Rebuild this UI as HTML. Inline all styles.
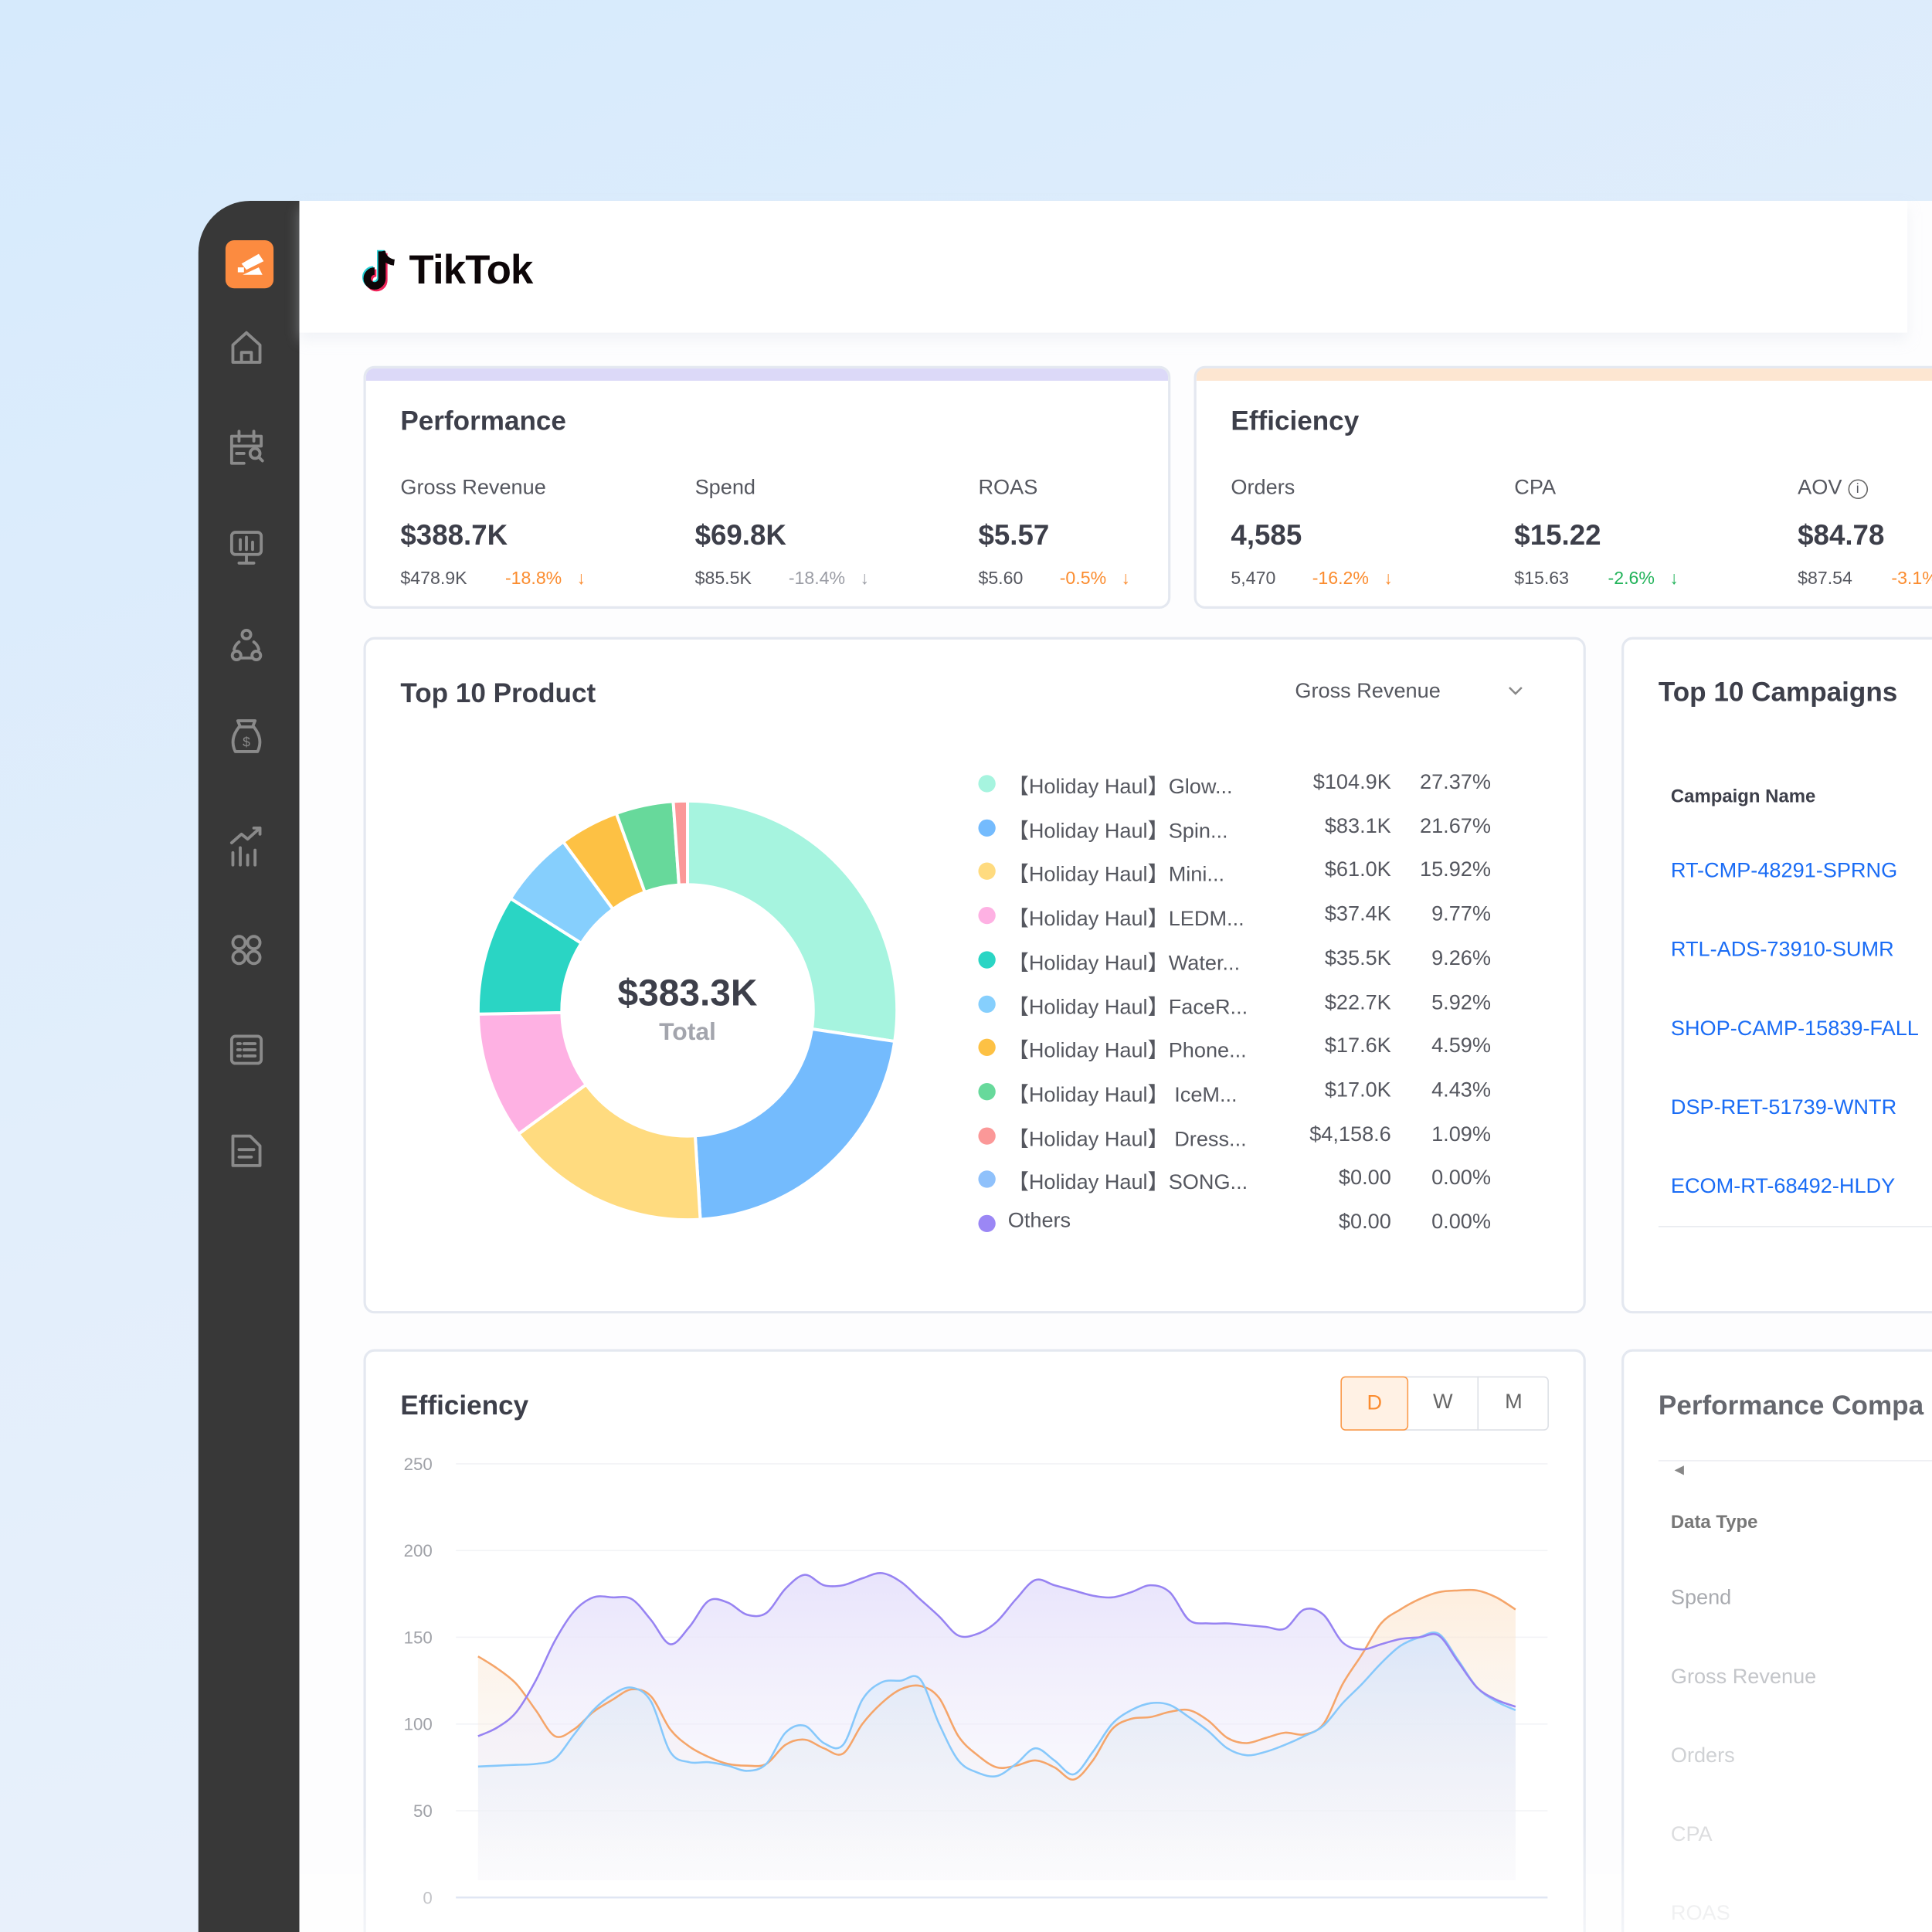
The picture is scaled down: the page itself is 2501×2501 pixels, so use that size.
<!DOCTYPE html>
<html><head><meta charset="utf-8">
<style>
html,body{margin:0;padding:0;width:2501px;height:2501px;overflow:hidden;background:#e6f0fb}
#stage{position:absolute;left:0;top:0;width:1568px;height:1568px;transform:scale(1.59503);transform-origin:0 0;font-family:"Liberation Sans",sans-serif;color:#3d3f4a;
background:linear-gradient(160deg,#d6eafc 0%,#e2eefb 45%,#edf2fb 100%);overflow:hidden}
.abs{position:absolute}
.card{position:absolute;background:#fff;border:2px solid #e4e8f0;border-radius:9px;box-sizing:border-box}
.t{position:absolute;white-space:nowrap}
.h{font-size:22px;font-weight:bold;color:#3d3f4a}
.lab{font-size:17px;color:#55575f}
.val{font-size:23px;font-weight:bold;color:#3d3f4a}
.sm{font-size:14.5px;color:#55575f}
.or{color:#fb8c2f}.gr{color:#22b35a}.gy{color:#9a9ca4}
.lg{font-size:17px;color:#55575f}
.camp{font-size:17px;color:#1a6cf5}
</style></head><body>
<div id="stage">
 <div class="abs" style="left:161px;top:163px;width:82px;height:1410px;background:#383838;border-top-left-radius:42px"></div>
 <div class="abs" style="left:183px;top:195px;width:39px;height:39px;background:#fc8b40;border-radius:7px">
  <svg width="39" height="39" viewBox="0 0 39 39"><polygon points="13,19 27,11 31,17 17,24" fill="#fff"/><rect x="10" y="22" width="5" height="4" fill="#fff"/><polygon points="14,28 27,22 30,28" fill="#fff"/></svg>
 </div>
 <svg class="abs" style="left:161px;top:250px" width="82" height="720" viewBox="0 0 82 720">
  <g fill="none" stroke="#8a8a8a" stroke-width="2.4" stroke-linecap="round" stroke-linejoin="round">
   <path d="M28 44 V30 L39 20 L50 30 V44 Z M35 44 V36 H43 V44"/>
   <path d="M27 104 h24 v8 M27 104 v22 h10 M27 112 h24 M33 100 v8 M45 100 v8 M31 118 h6"/><circle cx="46" cy="118" r="4"/><path d="M49 121 l3 3"/>
   <rect x="27" y="182" width="24" height="18" rx="3"/><path d="M39 200 v6 M33 207 h12 M34 188 v8 M39 186 v10 M44 190 v6"/>
   <circle cx="39" cy="265" r="3.5"/><circle cx="31" cy="282" r="3.5"/><circle cx="47" cy="282" r="3.5"/><path d="M33 271 a10 10 0 0 0 -4 6 M45 271 a10 10 0 0 1 4 6 M35 284 h8"/>
   <path d="M33 340 q-8 10 -3 20 h18 q5 -10 -3 -20 z M34 340 l-2 -5 h14 l-2 5"/><text x="39" y="356" font-size="11" fill="#8a8a8a" stroke="none" text-anchor="middle">$</text>
   <path d="M28 452 v-10 M34 452 v-14 M40 452 v-8 M46 452 v-12 M27 434 l8 -7 5 4 10 -9 M45 422 h5 v5"/>
   <circle cx="33" cy="515" r="5"/><circle cx="45" cy="515" r="5"/><circle cx="33" cy="527" r="5"/><circle cx="45" cy="527" r="5"/>
   <rect x="27" y="591" width="24" height="22" rx="3"/><path d="M32 597 h2 M37 597 h9 M32 602 h2 M37 602 h9 M32 607 h2 M37 607 h9"/>
   <path d="M28 672 h14 l8 8 v16 h-22 z M33 683 h12 M33 689 h10"/>
  </g>
 </svg>
 <div class="abs" style="left:243px;top:163px;width:1330px;height:1410px;background:#fdfdfe"></div>
 <div class="abs" style="left:243px;top:163px;width:1305px;height:107px;background:#fff;box-shadow:0 6px 10px rgba(220,225,235,.35)"></div>
 <div class="abs" style="left:294px;top:198px;height:44px">
  <svg width="34" height="40" viewBox="0 0 34 40" style="position:absolute;left:0;top:2px"><path d="M16 4 v22 a6 6 0 1 1 -6 -6" fill="none" stroke="#25d1d6" stroke-width="6" transform="translate(-1,-1)"/><path d="M16 4 v22 a6 6 0 1 1 -6 -6" fill="none" stroke="#f0245a" stroke-width="6" transform="translate(1.5,1.5)"/><path d="M16 4 v22 a6 6 0 1 1 -6 -6" fill="none" stroke="#0d0608" stroke-width="6"/><path d="M16 4 q2 8 10 9" fill="none" stroke="#0d0608" stroke-width="5"/></svg>
  <span class="t" style="left:38px;top:2px;font-size:33px;font-weight:bold;color:#0d0608;letter-spacing:-.5px">TikTok</span>
 </div>

 <div class="card" style="left:295px;top:297px;width:655px;height:197px;overflow:hidden"><div style="height:10px;background:#dcd9f8"></div></div>
 <span class="t h" style="left:325px;top:329px">Performance</span>
 <span class="t lab" style="left:325px;top:386px">Gross Revenue</span>
 <span class="t val" style="left:325px;top:421px">$388.7K</span>
 <span class="t sm" style="left:325px;top:462px">$478.9K</span>
 <span class="t sm or" style="left:410px;top:462px">-18.8% &nbsp;&nbsp;↓</span>
 <span class="t lab" style="left:564px;top:386px">Spend</span>
 <span class="t val" style="left:564px;top:421px">$69.8K</span>
 <span class="t sm" style="left:564px;top:462px">$85.5K</span>
 <span class="t sm gy" style="left:640px;top:462px">-18.4% &nbsp;&nbsp;↓</span>
 <span class="t lab" style="left:794px;top:386px">ROAS</span>
 <span class="t val" style="left:794px;top:421px">$5.57</span>
 <span class="t sm" style="left:794px;top:462px">$5.60</span>
 <span class="t sm or" style="left:860px;top:462px">-0.5% &nbsp;&nbsp;↓</span>

 <div class="card" style="left:969px;top:297px;width:640px;height:197px;overflow:hidden"><div style="height:10px;background:#fde6d1"></div></div>
 <span class="t h" style="left:999px;top:329px">Efficiency</span>
 <span class="t lab" style="left:999px;top:386px">Orders</span>
 <span class="t val" style="left:999px;top:421px">4,585</span>
 <span class="t sm" style="left:999px;top:462px">5,470</span>
 <span class="t sm or" style="left:1065px;top:462px">-16.2% &nbsp;&nbsp;↓</span>
 <span class="t lab" style="left:1229px;top:386px">CPA</span>
 <span class="t val" style="left:1229px;top:421px">$15.22</span>
 <span class="t sm" style="left:1229px;top:462px">$15.63</span>
 <span class="t sm gr" style="left:1305px;top:462px">-2.6% &nbsp;&nbsp;↓</span>
 <span class="t lab" style="left:1459px;top:386px">AOV <span style="display:inline-block;width:14px;height:14px;border:1.5px solid #666;border-radius:50%;font-size:11px;text-align:center;line-height:14px;vertical-align:1px">i</span></span>
 <span class="t val" style="left:1459px;top:421px">$84.78</span>
 <span class="t sm" style="left:1459px;top:462px">$87.54</span>
 <span class="t sm or" style="left:1535px;top:462px">-3.1%</span>

 <div class="card" style="left:295px;top:517px;width:992px;height:549px"></div>
 <span class="t h" style="left:325px;top:550px">Top 10 Product</span>
 <span class="t lab" style="left:1051px;top:551px">Gross Revenue</span>
 <svg class="abs" style="left:1222px;top:555px" width="16" height="12"><path d="M3 3 L8 8 L13 3" fill="none" stroke="#888" stroke-width="1.6"/></svg>
 <svg id="donut" class="abs" style="left:0;top:0" width="1568" height="1568"></svg>
 <span class="t" style="left:458px;top:790px;width:200px;text-align:center;font-size:30px;font-weight:bold;color:#3d3f4a">$383.3K</span>
 <span class="t" style="left:458px;top:827px;width:200px;text-align:center;font-size:20px;font-weight:bold;color:#a3a5ad">Total</span>
 <div id="legend"></div>

 <div class="card" style="left:1316px;top:517px;width:290px;height:549px"></div>
 <span class="t h" style="left:1346px;top:549px">Top 10 Campaigns</span>
 <span class="t" style="left:1356px;top:638px;font-size:15px;font-weight:bold;color:#3d3f4a">Campaign Name</span>
 <span class="t camp" style="left:1356px;top:697px">RT-CMP-48291-SPRNG</span>
 <span class="t camp" style="left:1356px;top:761px">RTL-ADS-73910-SUMR</span>
 <span class="t camp" style="left:1356px;top:825px">SHOP-CAMP-15839-FALL</span>
 <span class="t camp" style="left:1356px;top:889px">DSP-RET-51739-WNTR</span>
 <span class="t camp" style="left:1356px;top:953px">ECOM-RT-68492-HLDY</span>
 <div class="abs" style="left:1346px;top:995px;width:230px;height:1px;background:#e8ebf0"></div>

 <div class="card" style="left:295px;top:1095px;width:992px;height:520px"></div>
 <span class="t h" style="left:325px;top:1128px">Efficiency</span>
 <div class="abs" style="left:1088px;top:1117px;width:169px;height:44px;border:1.5px solid #dde0e6;border-radius:4px;box-sizing:border-box"></div>
 <div class="abs" style="left:1088px;top:1117px;width:55px;height:44px;border:1.5px solid #fb9a4a;background:#fff1e4;border-radius:4px;box-sizing:border-box;color:#fb8c2f;font-size:17px;text-align:center;line-height:41px">D</div>
 <div class="abs" style="left:1143px;top:1117px;width:57px;height:44px;border-right:1.5px solid #dde0e6;box-sizing:border-box;color:#666;font-size:17px;text-align:center;line-height:42px">W</div>
 <div class="abs" style="left:1200px;top:1117px;width:57px;height:44px;color:#666;font-size:17px;text-align:center;line-height:42px">M</div>
 <svg id="chart" class="abs" style="left:0;top:0" width="1568" height="1568"></svg>

 <div class="card" style="left:1316px;top:1095px;width:290px;height:520px"></div>
 <span class="t h" style="left:1346px;top:1128px;color:#66686f">Performance Compa</span>
 <div class="abs" style="left:1346px;top:1185px;width:230px;height:1px;background:#eceef2"></div>
 <span class="t" style="left:1359px;top:1188px;font-size:10px;color:#888">◀</span>
 <span class="t" style="left:1356px;top:1227px;font-size:15px;font-weight:bold;color:#777">Data Type</span>
 <span class="t" style="left:1356px;top:1287px;font-size:17px;color:#a9abb0">Spend</span>
 <span class="t" style="left:1356px;top:1351px;font-size:17px;color:#c4c6ca">Gross Revenue</span>
 <span class="t" style="left:1356px;top:1415px;font-size:17px;color:#cfd1d4">Orders</span>
 <span class="t" style="left:1356px;top:1479px;font-size:17px;color:#dadbdd">CPA</span>
 <span class="t" style="left:1356px;top:1543px;font-size:17px;color:#e4e5e7">ROAS</span>
 <div class="abs" style="left:243px;top:1480px;width:1330px;height:90px;background:linear-gradient(rgba(255,255,255,0),rgba(255,255,255,.55))"></div>
</div>
<script>
const NS='http://www.w3.org/2000/svg';
const productNames=['【Holiday Haul】Glow...','【Holiday Haul】Spin...','【Holiday Haul】Mini...','【Holiday Haul】LEDM...','【Holiday Haul】Water...','【Holiday Haul】FaceR...','【Holiday Haul】Phone...','【Holiday Haul】 IceM...','【Holiday Haul】 Dress...','【Holiday Haul】SONG...','Others'];
const productValues=['$104.9K','$83.1K','$61.0K','$37.4K','$35.5K','$22.7K','$17.6K','$17.0K','$4,158.6','$0.00','$0.00'];
const productShares=[27.37,21.67,15.92,9.77,9.26,5.92,4.59,4.43,1.09,0.00,0.00];
const productColors=['#a6f4df','#74bbfd','#ffdb7f','#feb1e3','#2ad5c4','#86cffd','#fdc144','#67d99b','#fb9898','#8fc1fb','#9b87f5'];
const days=[];for(let i=0;i<55;i++)days.push('D'+(i+1));
const seriesPurple=[93,98,107,125,148,165,173,173,172,160,146,156,171,170,163,164,178,186,180,180,184,187,182,172,162,151,152,159,172,183,180,177,174,173,176,180,176,160,158,158,157,156,155,166,163,147,143,146,149,150,151,136,121,114,110];
const seriesBlue=[75.5,76,76.5,77,80,94,108,117,121,113,84,78,78,76,73,77,95,99,89,88,114,124,125,126,100,79,72,70,77,86,79,71,84,100,108,112,111,104,96,86,82,84,88,93,99,112,123,135,145,150,152,137,121,113,108];
const seriesOrange=[139,132,123,108,93,97,107,114,120,116,97,87,81,77,76,77,88,91,86,83,100,112,120,122,115,93,82,75,76,79,75,68,79,97,103,104,107,108,102,92,89,92,95,94,100,123,140,158,166,172,176,177,177,173,166];
const yTicks=[0,50,100,150,200,250];

function mk(tag,attrs,parent){const e=document.createElementNS(NS,tag);for(const k in attrs)e.setAttribute(k,attrs[k]);parent.appendChild(e);return e;}

const dn=document.getElementById('donut');
const cx=558,cy=820,R=170,r0=102;
let total=productShares.reduce((a,b)=>a+b,0),acc=0;
productShares.forEach((v,i)=>{
 if(v<=0)return;
 const a0=acc/total*2*Math.PI-Math.PI/2; acc+=v; const a1=acc/total*2*Math.PI-Math.PI/2;
 const lg=(a1-a0)>Math.PI?1:0;
 const p=`M${cx+R*Math.cos(a0)} ${cy+R*Math.sin(a0)} A${R} ${R} 0 ${lg} 1 ${cx+R*Math.cos(a1)} ${cy+R*Math.sin(a1)} L${cx+r0*Math.cos(a1)} ${cy+r0*Math.sin(a1)} A${r0} ${r0} 0 ${lg} 0 ${cx+r0*Math.cos(a0)} ${cy+r0*Math.sin(a0)} Z`;
 const s=mk('path',{d:p,fill:productColors[i],stroke:'#fff','stroke-width':2.5},dn);
 
 
});
const lgd=document.getElementById('legend');
productNames.forEach((n,i)=>{
 const y=636+i*35.7;
 const row=document.createElement('div');
 
 
 row.innerHTML=`<div class="abs" style="left:794px;top:${y-7}px;width:14px;height:14px;border-radius:50%;background:${productColors[i]}"></div>
 <span class="t lg" style="left:818px;top:${y-12}px;font-family:'Liberation Sans','Noto Sans CJK SC',sans-serif">${n}</span>
 <span class="t lg" style="left:1000px;width:129px;text-align:right;top:${y-11}px">${productValues[i]}</span>
 <span class="t lg" style="left:1130px;width:80px;text-align:right;top:${y-11}px">${productShares[i].toFixed(2)}%</span>`;
 lgd.appendChild(row);
});

const ch=document.getElementById('chart');
const X0=388,X1=1230,Y0=1540,Y250=1188;
const xs=i=>X0+(X1-X0)*i/(days.length-1);
const ys=v=>Y0-(Y0-Y250)*v/250;
const defs=mk('defs',{},ch);
const gP=mk('linearGradient',{id:'gP',x1:0,y1:0,x2:0,y2:1},defs);
mk('stop',{offset:0,'stop-color':'#e6e1fb','stop-opacity':.9},gP);mk('stop',{offset:1,'stop-color':'#f6f5fb','stop-opacity':.2},gP);
const gB=mk('linearGradient',{id:'gB',x1:0,y1:0,x2:0,y2:1},defs);
mk('stop',{offset:0,'stop-color':'#cfe6fb','stop-opacity':.6},gB);mk('stop',{offset:1,'stop-color':'#f2f2f6','stop-opacity':.2},gB);
const gO=mk('linearGradient',{id:'gO',x1:0,y1:0,x2:0,y2:1},defs);
mk('stop',{offset:0,'stop-color':'#fde3c8','stop-opacity':.6},gO);mk('stop',{offset:1,'stop-color':'#f2f2f6','stop-opacity':.1},gO);
yTicks.forEach(t=>{
 const l=mk('line',{x1:370,x2:1256,y1:ys(t),y2:ys(t),stroke:t==0?'#cdd8ec':'#f2f3f6','stroke-width':t==0?1.5:1},ch);
 
 
 const tx=mk('text',{x:351,y:ys(t)+5,'text-anchor':'end','font-size':14,fill:'#a0a2a8','font-family':'Liberation Sans, sans-serif'},ch);
 tx.textContent=t;
 
 
});
function curve(vals){
 const pts=vals.map((v,i)=>[xs(i),ys(v)]);
 let d=`M${pts[0][0]} ${pts[0][1]}`;
 for(let i=0;i<pts.length-1;i++){
  const p0=pts[i-1]||pts[i],p1=pts[i],p2=pts[i+1],p3=pts[i+2]||p2;
  d+=` C${p1[0]+(p2[0]-p0[0])/6} ${p1[1]+(p2[1]-p0[1])/6} ${p2[0]-(p3[0]-p1[0])/6} ${p2[1]-(p3[1]-p1[1])/6} ${p2[0]} ${p2[1]}`;
 }
 return d;
}
[[seriesOrange,'gO','orange'],[seriesPurple,'gP','purple'],[seriesBlue,'gB','blue']].forEach(([vals,g,nm])=>{
 const c=curve(vals);
 const a=mk('path',{d:c+` L${xs(vals.length-1)} ${Y0-14} L${xs(0)} ${Y0-14} Z`,fill:`url(#${g})`},ch);
 
 
});
[[seriesOrange,'#f5a56a','orange'],[seriesBlue,'#86c8fb','blue'],[seriesPurple,'#9783f2','purple']].forEach(([vals,col,nm])=>{
 const l=mk('path',{d:curve(vals),fill:'none',stroke:col,'stroke-width':1.6},ch);
 
 
});
</script>
</body></html>
